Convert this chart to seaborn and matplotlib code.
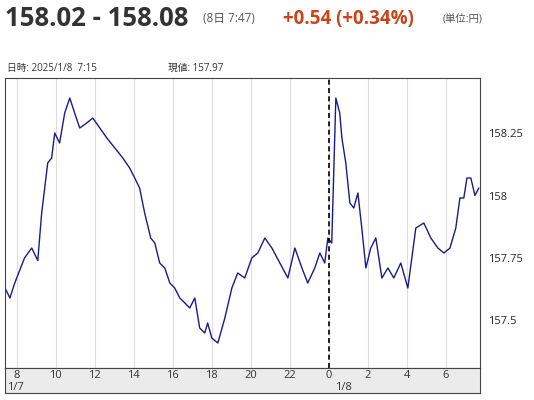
import matplotlib
matplotlib.use('Agg')
import matplotlib.pyplot as plt
import seaborn as sns
import pandas as pd

# hours since 2025/1/7 0:00, USD/JPY price
hours = [7.4, 7.65, 7.9, 8.4, 8.77, 9.08, 9.28, 9.59, 9.79, 9.95, 10.2, 10.46, 10.72,
         10.97, 11.23, 11.59, 11.9, 12.26, 12.62, 13.03, 13.44, 13.79, 14.05, 14.3,
         14.56, 14.87, 15.08, 15.33, 15.59, 15.85, 16.1, 16.36, 16.62, 16.87, 17.13,
         17.38, 17.64, 17.79, 18.0, 18.31, 18.67, 19.03, 19.33, 19.69, 20.05, 20.36,
         20.72, 21.08, 21.49, 21.9, 22.26, 22.62, 22.92, 23.28, 23.54, 23.79, 23.95,
         24.15, 24.36, 24.56, 24.67, 24.87, 25.08, 25.28, 25.49, 25.69, 25.9, 26.15,
         26.41, 26.72, 27.03, 27.33, 27.69, 28.05, 28.46, 28.87, 29.23, 29.59, 29.9,
         30.21, 30.51, 30.72, 30.92, 31.08, 31.28, 31.49, 31.69]
prices = [157.63, 157.59, 157.65, 157.75, 157.79, 157.74, 157.93, 158.13, 158.15,
          158.25, 158.21, 158.33, 158.39, 158.33, 158.27, 158.29, 158.31, 158.27,
          158.23, 158.19, 158.15, 158.11, 158.07, 158.03, 157.93, 157.83, 157.81,
          157.73, 157.71, 157.65, 157.63, 157.59, 157.57, 157.55, 157.59, 157.47,
          157.45, 157.49, 157.43, 157.41, 157.51, 157.63, 157.69, 157.67, 157.75,
          157.77, 157.83, 157.79, 157.73, 157.67, 157.79, 157.71, 157.65, 157.71,
          157.77, 157.73, 157.83, 157.81, 158.39, 158.33, 158.23, 158.13, 157.97,
          157.95, 158.01, 157.87, 157.71, 157.79, 157.83, 157.67, 157.71, 157.67,
          157.73, 157.63, 157.87, 157.89, 157.83, 157.79, 157.77, 157.79, 157.87,
          157.99, 157.99, 158.07, 158.07, 158.00, 158.03]
n = min(len(hours), len(prices))
hours, prices = hours[:n], prices[:n]
ytick_vals = [157.5, 157.75, 158.0, 158.25]
ytick_labels = ['157.5', '157.75', '158', '158.25']
xtick_vals = [8, 10, 12, 14, 16, 18, 20, 22, 24, 26, 28, 30]
xtick_labels = ['8', '10', '12', '14', '16', '18', '20', '22', '0', '2', '4', '6']

sns.set_style('white')
plt.rcParams['font.family'] = ['Open Sans', 'Noto Sans CJK JP', 'DejaVu Sans']

df = pd.DataFrame({'h': hours, 'p': prices})
fig = plt.figure(figsize=(5.34, 4), dpi=100)
W, H = 534, 400
ax = fig.add_axes([5 / W, 32 / H, 475 / W, 290 / H])
sns.lineplot(data=df, x='h', y='p', ax=ax, color='#1a1a8c', linewidth=1)
ax.set_xlim(7.4, 31.75)
ax.set_ylim(157.31, 158.47)
ax.set_xticks(xtick_vals)
ax.set_xticklabels([])
ax.tick_params(axis='x', length=0)
for x in xtick_vals:
    ax.axvline(x, color='#dddddd', lw=0.8, zorder=0)
ax.axvline(24, color='black', lw=1.2, ls=(0, (3, 2)))
ax.yaxis.tick_right()
ax.set_yticks(ytick_vals)
ax.set_yticklabels(ytick_labels, fontsize=8)
ax.tick_params(axis='y', length=0, pad=6)
ax.set_xlabel('')
ax.set_ylabel('')
for s in ax.spines.values():
    s.set_color('#444444')

band = fig.add_axes([5 / W, 7 / H, 475 / W, 25 / H])
band.set_facecolor('#ebebeb')
band.set_xlim(7.4, 31.75)
band.set_ylim(0, 1)
band.set_xticks([])
band.set_yticks([])
for s in band.spines.values():
    s.set_color('#444444')
for x, lab in zip(xtick_vals, xtick_labels):
    band.text(x, 0.72, lab, ha='center', va='center', fontsize=8, color='#333333')
band.text(7.5, 0.2, '1/7', ha='left', va='center', fontsize=8, color='#333333')
band.text(24.3, 0.2, '1/8', ha='left', va='center', fontsize=8, color='#333333')

fig.text(5 / W, 1 - 19 / H, '158.02 - 158.08', fontsize=18.5, fontweight='bold',
         color='#333333', va='center')
fig.text(203 / W, 1 - 19 / H, '(8日 7:47)', fontsize=8.5, color='#555555', va='center')
fig.text(283 / W, 1 - 19 / H, '+0.54 (+0.34%)', fontsize=13.5, fontweight='bold',
         color='#c8441a', va='center')
fig.text(443 / W, 1 - 19 / H, '(単位:円)', fontsize=7.5, color='#555555', va='center')
fig.text(7 / W, 1 - 68 / H, '日時: 2025/1/8  7:15', fontsize=7, color='#333333', va='center')
fig.text(168 / W, 1 - 68 / H, '現値: 157.97', fontsize=7, color='#333333', va='center')

fig.savefig('out.png', dpi=100)
